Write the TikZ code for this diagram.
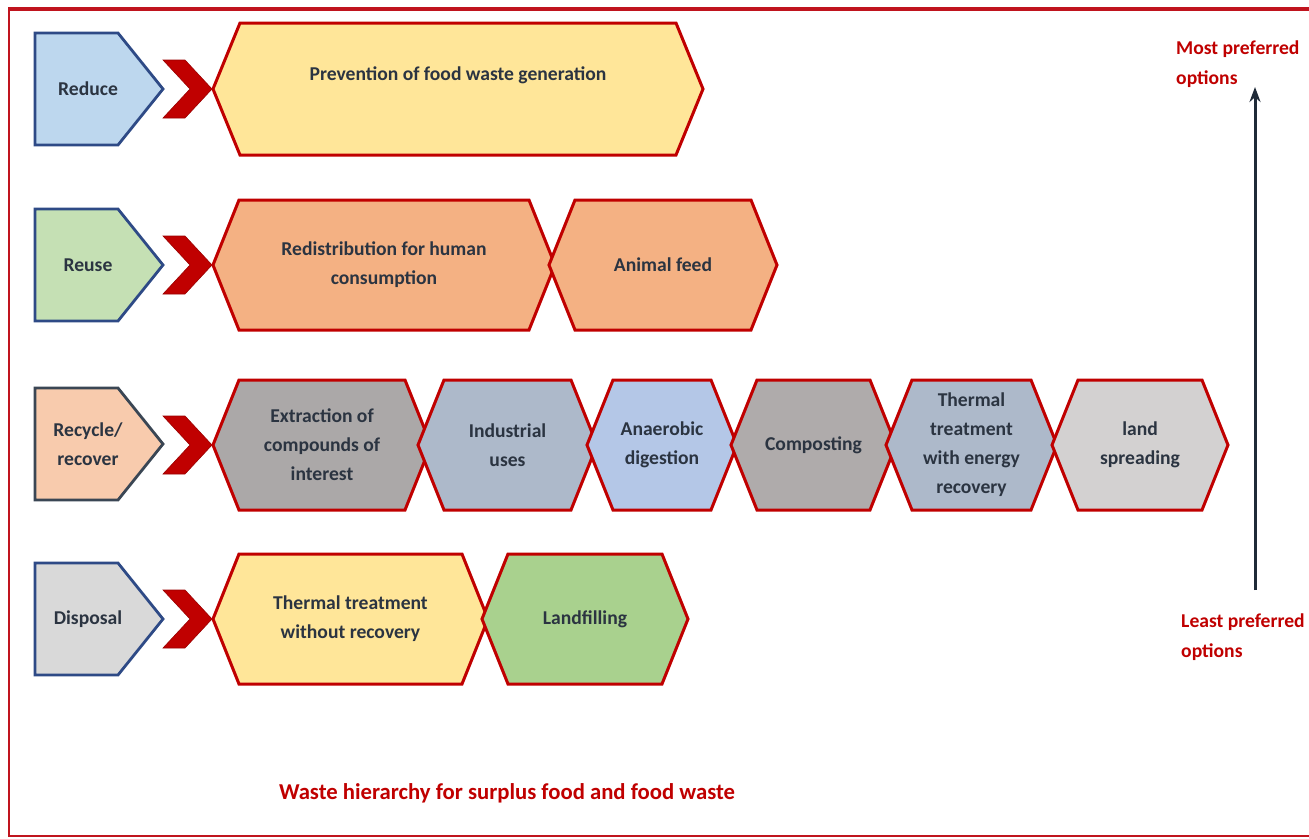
\documentclass[tikz,border=0pt]{standalone}
\usepackage{fontspec}
\setmainfont{Carlito}
\usetikzlibrary{arrows.meta}
\definecolor{hexred}{HTML}{C00000}
\definecolor{framered}{HTML}{C0141E}
\definecolor{pentblue}{HTML}{2E4A86}
\definecolor{pentslate}{HTML}{3A4654}
\definecolor{txt}{HTML}{2B3441}
\definecolor{cReduce}{HTML}{BDD7EE}
\definecolor{cReuse}{HTML}{C5E0B4}
\definecolor{cRecycle}{HTML}{F8CBAD}
\definecolor{cDisposal}{HTML}{D9D9D9}
\definecolor{cYellow}{HTML}{FFE699}
\definecolor{cOrange}{HTML}{F4B183}
\definecolor{cGrayA}{HTML}{ABA8A8}
\definecolor{cBlueGray}{HTML}{ADB9CA}
\definecolor{cLightBlue}{HTML}{B4C7E7}
\definecolor{cGrayB}{HTML}{AFABAB}
\definecolor{cGrayC}{HTML}{D3D1D1}
\definecolor{cGreen}{HTML}{A9D18E}
\definecolor{arrowdark}{HTML}{1F2A38}
\newcommand\hexshape[6]{% name, xl, xr, yc, fill, text
  \draw[hexbox, fill=#5] (#2,#4) -- ({#2+26},{#4-65}) -- ({#3-26},{#4-65}) -- (#3,#4)
     -- ({#3-26},{#4+65}) -- ({#2+26},{#4+65}) -- cycle;
  \node[label] (#1) at ({(#2+#3)/2},#4) {#6};}
\newcommand\pentshape[5]{% name, yc, fill, border, text
  \draw[pentbox, draw=#4, fill=#3] (35,{#2-56}) -- (118,{#2-56}) -- (163,#2) -- (118,{#2+56}) -- (35,{#2+56}) -- cycle;
  \node[label] (#1) at (88,#2) {#5};}
\newcommand\chev[2]{% name, yc
  \draw[chevbox] (163,{#2-29}) -- (185,{#2-29}) -- (212,#2) -- (185,{#2+29}) -- (163,{#2+29}) -- (190,#2) -- cycle;
  \coordinate (#1) at (190,#2);}
\begin{document}
\begin{tikzpicture}[x=1pt,y=-1pt,
  hexbox/.style={draw=hexred, line width=3pt, line join=miter},
  pentbox/.style={line width=2.8pt, line join=miter},
  chevbox/.style={fill=hexred, draw=hexred!80!black, line width=0.6pt},
  label/.style={align=center, text=txt, inner sep=0pt, font=\fontsize{19.6}{29}\selectfont\bfseries},
  redlabel/.style={align=left, text=hexred, inner sep=0pt, font=\fontsize{19.6}{30}\selectfont\bfseries},
  arrowline/.style={draw=arrowdark, line width=3pt, -{Stealth[length=15pt,width=11pt]}}]
\useasboundingbox (0,0) rectangle (1309,838);
\fill[white] (0,0) rectangle (1309,838);
% Frame
\draw[framered, line width=4pt] (8,9) -- (1320,9);
\draw[framered, line width=2pt] (9,9) -- (9,836) -- (1320,836);
% Row 1: Reduce
\pentshape{reduce}{89}{cReduce}{pentblue}{Reduce}
\chev{ch1}{89}
\draw[hexbox, fill=cYellow] (213,89) -- (240,23) -- (676,23) -- (703,89) -- (676,155) -- (240,155) -- cycle;
\node[label] (prev) at (458,75) {Prevention of food waste generation};
% Row 2: Reuse
\pentshape{reuse}{265}{cReuse}{pentblue}{Reuse}
\chev{ch2}{265}
\hexshape{redis}{213}{555}{265}{cOrange}{Redistribution for human\\consumption}
\hexshape{animal}{549}{777}{265}{cOrange}{Animal feed}
% Row 3: Recycle/recover
\pentshape{recycle}{444}{cRecycle}{pentslate}{Recycle/\\recover}
\chev{ch3}{445}
\hexshape{extract}{213}{431}{445}{cGrayA}{Extraction of\\compounds of\\interest}
\hexshape{indus}{418}{597}{445}{cBlueGray}{Industrial\\uses}
\hexshape{anaer}{587}{737}{445}{cLightBlue}{Anaerobic\\digestion}
\hexshape{compost}{731}{896}{445}{cGrayB}{Composting}
\hexshape{thermal}{886}{1057}{445}{cBlueGray}{Thermal\\treatment\\with energy\\recovery}
\hexshape{land}{1052}{1228}{445}{cGrayC}{land\\spreading}
% Row 4: Disposal
\pentshape{disposal}{619}{cDisposal}{pentblue}{Disposal}
\chev{ch4}{619}
\hexshape{thermwo}{213}{488}{619}{cYellow}{Thermal treatment\\without recovery}
\hexshape{landfill}{482}{688}{619}{cGreen}{Landfilling}
% Preference arrow
\coordinate (abot) at (1255,590);
\coordinate (atop) at (1255,87);
\draw[arrowline] (abot) -- (atop);
\node[redlabel, anchor=west] (most) at (1176,64) {Most preferred\\options};
\node[redlabel, anchor=west] (least) at (1181,637) {Least preferred\\options};
% Caption
\node[redlabel, align=center, font=\fontsize{22.7}{28}\selectfont\bfseries] (caption) at (507,793) {Waste hierarchy for surplus food and food waste};
\end{tikzpicture}
\end{document}
